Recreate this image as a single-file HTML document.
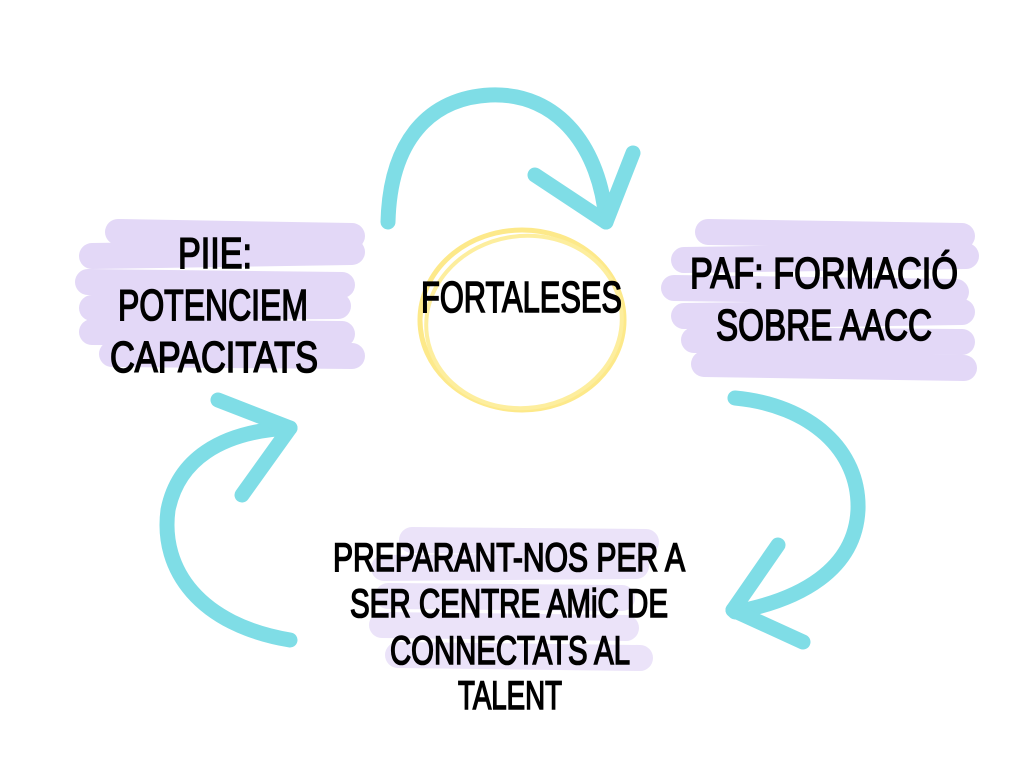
<!DOCTYPE html>
<html><head><meta charset="utf-8"><style>html,body{margin:0;padding:0;background:#fff;width:1024px;height:768px;overflow:hidden}</style></head>
<body>
<svg width="1024" height="768" viewBox="0 0 1024 768" xmlns="http://www.w3.org/2000/svg">
<g stroke-linecap="round" fill="none">
<g stroke="#e3d8f7" stroke-width="26">
<line x1="118" y1="232" x2="352" y2="236"/>
<line x1="92" y1="256" x2="352" y2="252"/>
<line x1="88" y1="282" x2="342" y2="285"/>
<line x1="92" y1="308" x2="338" y2="306"/>
<line x1="92" y1="332" x2="342" y2="334"/>
<line x1="112" y1="354" x2="352" y2="356"/>
</g>
<g stroke="#e3d8f7" stroke-width="26">
<line x1="708" y1="232" x2="962" y2="236"/>
<line x1="684" y1="260" x2="966" y2="256"/>
<line x1="674" y1="288" x2="956" y2="292"/>
<line x1="684" y1="316" x2="962" y2="312"/>
<line x1="694" y1="340" x2="962" y2="342"/>
<line x1="704" y1="364" x2="964" y2="368"/>
</g>
<g stroke="#ebe3f9" stroke-width="26">
<line x1="412" y1="540" x2="646" y2="542"/>
<line x1="384" y1="568" x2="636" y2="566"/>
<line x1="388" y1="596" x2="622" y2="598"/>
<line x1="382" y1="625" x2="626" y2="628"/>
<line x1="398" y1="655" x2="640" y2="658"/>
</g>
<ellipse cx="522" cy="320" rx="102" ry="90" stroke="#fde98a" stroke-width="5"/>
<ellipse cx="524" cy="322" rx="98" ry="86" stroke="#fdee9e" stroke-width="4" transform="rotate(-8 524 322)"/>
<g stroke="#7fdde6" stroke-width="15">
<path d="M388 222 C390 140 430 98 490 95 C560 92 600 150 606 220"/>
<line x1="535" y1="175" x2="606" y2="222"/>
<line x1="633" y1="153" x2="606" y2="222"/>
<path d="M735 398 C810 405 860 450 858 510 C855 570 800 600 735 612"/>
<line x1="778" y1="545" x2="733" y2="610"/>
<line x1="803" y1="642" x2="733" y2="610"/>
<path d="M290 640 C200 625 160 570 168 510 C178 460 220 432 288 428"/>
<line x1="218" y1="400" x2="290" y2="428"/>
<line x1="242" y1="495" x2="290" y2="428"/>
</g>
</g>
<g font-family="'Liberation Sans', sans-serif" font-weight="normal" font-size="44" fill="#000" stroke="#000" stroke-width="1.6">
<text x="178" y="268" textLength="74" lengthAdjust="spacingAndGlyphs">PIIE:</text>
<text x="118" y="320" textLength="190" lengthAdjust="spacingAndGlyphs">POTENCIEM</text>
<text x="110" y="372" textLength="208" lengthAdjust="spacingAndGlyphs">CAPACITATS</text>
<text x="421" y="312" textLength="201" lengthAdjust="spacingAndGlyphs">FORTALESES</text>
<text x="690" y="288" textLength="268" lengthAdjust="spacingAndGlyphs">PAF: FORMACIÓ</text>
<text x="716" y="340" textLength="216" lengthAdjust="spacingAndGlyphs">SOBRE AACC</text>
<g font-size="40">
<text x="333" y="571" textLength="352" lengthAdjust="spacingAndGlyphs">PREPARANT-NOS PER A</text>
<text x="350" y="617" textLength="318" lengthAdjust="spacingAndGlyphs">SER CENTRE AMiC DE</text>
<text x="390" y="664" textLength="240" lengthAdjust="spacingAndGlyphs">CONNECTATS AL</text>
<text x="458" y="709" textLength="104" lengthAdjust="spacingAndGlyphs">TALENT</text>
</g>
</g>
</svg>
</body></html>
